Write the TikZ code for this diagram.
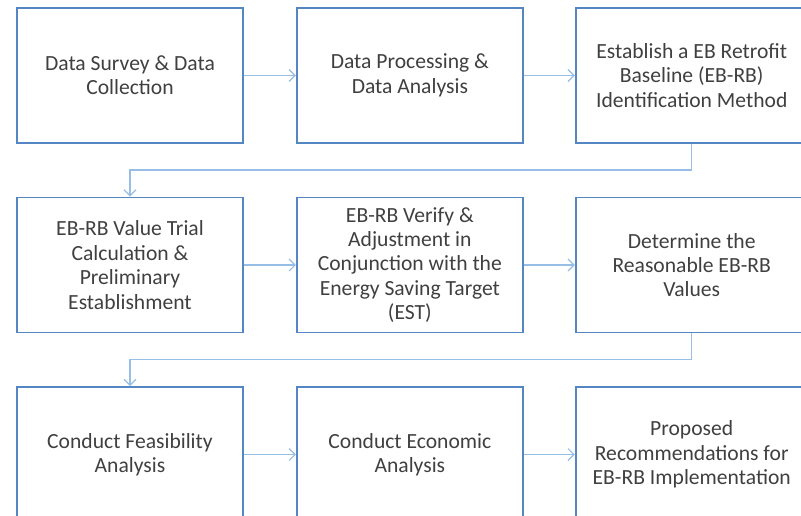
\documentclass[tikz,border=0pt]{standalone}
\usepackage{fontspec}
\setmainfont{Carlito}
\usetikzlibrary{arrows.meta,positioning}
\definecolor{boxblue}{RGB}{84,134,196}
\definecolor{linkblue}{RGB}{150,190,230}
\definecolor{txtgray}{RGB}{64,64,64}
\newcommand{\boxw}{169.5pt}
\newcommand{\boxh}{101.25pt}
\tikzset{
    stepsty/.style={draw=boxblue,line width=1.4pt,fill=white,rectangle,minimum width=\boxw,minimum height=\boxh,inner sep=0pt,align=center,text=txtgray,font=\fontsize{16.2}{18.3}\selectfont},
    linksty/.style={draw=linkblue,line width=0.9pt,-{Straight Barb[length=4.5pt,width=9pt]}},
    hgapsty/.style={right=39pt of #1},
    lastgapsty/.style={right=38.25pt of #1,minimum width=174pt},
    vgapsty/.style={below=39.5pt of #1},
}

\begin{document}
\begin{tikzpicture}[x=0.75pt,y=-0.75pt]
  \clip (0,0) rectangle (801,516);

  \node[stepsty] (s1) at (130,75.5) {Data Survey \& Data\\Collection};
  \node[stepsty,hgapsty=s1] (s2) {Data Processing \&\\Data Analysis};
  \node[stepsty,lastgapsty=s2] (s3) {Establish a EB Retrofit\\Baseline (EB-RB)\\Identification Method};

  \node[stepsty,vgapsty=s1] (s4) {EB-RB Value Trial\\Calculation \&\\Preliminary\\Establishment};
  \node[stepsty,hgapsty=s4] (s5) {EB-RB Verify \&\\Adjustment in\\Conjunction with the\\Energy Saving Target\\(EST)};
  \node[stepsty,lastgapsty=s5] (s6) {Determine the\\Reasonable EB-RB\\Values};

  \node[stepsty,vgapsty=s4] (s7) {Conduct Feasibility\\Analysis};
  \node[stepsty,hgapsty=s7] (s8) {Conduct Economic\\Analysis};
  \node[stepsty,lastgapsty=s8] (s9) {Proposed\\Recommendations for\\EB-RB Implementation};

  \draw[linksty] (s1) -- (s2);
  \draw[linksty] (s2) -- (s3);
  \draw[linksty] (s4) -- (s5);
  \draw[linksty] (s5) -- (s6);
  \draw[linksty] (s7) -- (s8);
  \draw[linksty] (s8) -- (s9);

  % elbow links between rows
  \draw[linksty] (s3.south) -- ++(0,26) -| (s4.north);
  \draw[linksty] (s6.south) -- ++(0,26) -| (s7.north);
\end{tikzpicture}
\end{document}
